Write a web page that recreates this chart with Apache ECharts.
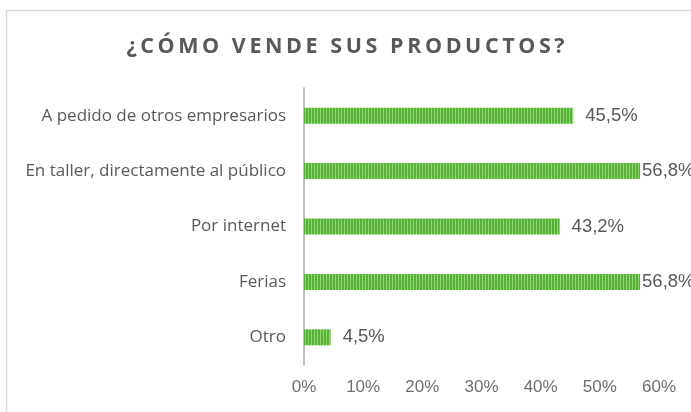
<!DOCTYPE html>
<html>
<head>
<meta charset="utf-8">
<script src="https://cdn.jsdelivr.net/npm/echarts@6/dist/echarts.min.js"></script>
<style>
  html, body { margin: 0; padding: 0; background: #fff; }
  #chart { width: 691px; height: 412px; }
</style>
</head>
<body>
<div id="chart"></div>
<script>
// data
var categories = ['A pedido de otros empresarios', 'En taller, directamente al público', 'Por internet', 'Ferias', 'Otro'];
var values = [45.5, 56.8, 43.2, 56.8, 4.5];
var tickMax = 60;
var tickStep = 10;
var titleText = '¿CÓMO VENDE SUS PRODUCTOS?';

// spread the title letters out (thin spaces), like the original
function spaced(s) {
  return s.split('').join('\u2009');
}

// striped green fill
var pat = document.createElement('canvas');
pat.width = 3; pat.height = 1;
var pc = pat.getContext('2d');
pc.fillStyle = '#56b236'; pc.fillRect(0, 0, 2, 1);
pc.fillStyle = '#93d575'; pc.fillRect(2, 0, 1, 1);

var myChart = echarts.init(document.getElementById('chart'), null, { renderer: 'canvas' });
myChart.setOption({
  animation: false,
  backgroundColor: '#fff',
  title: {
    text: spaced(titleText),
    left: 'center',
    top: 31,
    textStyle: { color: '#595959', fontFamily: 'Open Sans', fontWeight: 'bold', fontSize: 21.5 }
  },
  graphic: [{
    type: 'rect',
    shape: { x: 6.5, y: 10.5, width: 720, height: 440 },
    style: { fill: 'none', stroke: '#d9d9d9', lineWidth: 1.5 },
    silent: true
  }],
  grid: { left: 304, right: 32, top: 88, bottom: 47 },
  xAxis: {
    type: 'value',
    min: 0, max: tickMax, interval: tickStep,
    axisLine: { show: false },
    axisTick: { show: false },
    splitLine: { show: false },
    axisLabel: { color: '#6f6f6f', fontSize: 17, fontFamily: 'Liberation Sans', margin: 14, formatter: '{value}%' }
  },
  yAxis: {
    type: 'category',
    inverse: true,
    data: categories,
    axisLine: { show: true, lineStyle: { color: '#bfbfbf', width: 2 } },
    axisTick: { show: false },
    axisLabel: { color: '#595959', fontSize: 17, fontFamily: 'Open Sans', margin: 18 }
  },
  series: [{
    type: 'bar',
    data: values.map(function (v) {
      // long bars: the label sits right against the bar end
      return v > 55 ? { value: v, label: { distance: 2 } } : v;
    }),
    barWidth: 16,
    itemStyle: { color: { image: pat, repeat: 'repeat' } },
    label: {
      show: true,
      position: 'right',
      distance: 12,
      color: '#595959',
      fontSize: 18.5,
      fontFamily: 'Liberation Sans',
      formatter: function (p) { return p.value.toFixed(1).replace('.', ',') + '%'; }
    }
  }]
});
</script>
</body>
</html>
